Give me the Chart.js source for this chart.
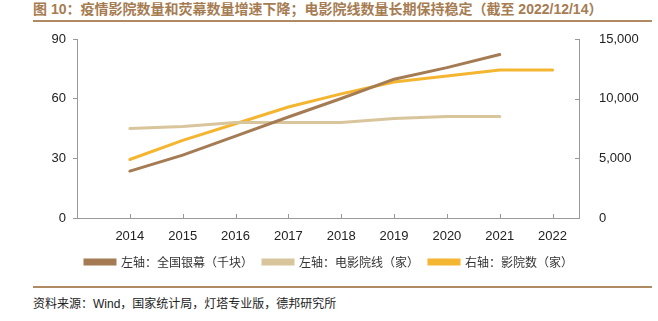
<!DOCTYPE html>
<html><head><meta charset="utf-8">
<script src="https://cdn.jsdelivr.net/npm/chart.js@4/dist/chart.umd.min.js"></script>
<style>
html,body{margin:0;padding:0;background:#fff;width:658px;height:321px;overflow:hidden;}
#title{position:absolute;left:33px;top:0px;font:bold 14px "Liberation Sans","Noto Sans CJK SC",sans-serif;color:#a67c52;white-space:nowrap;line-height:18px;}
#tline{position:absolute;left:33px;top:20px;width:619px;height:2px;background:#b08a62;}
#bline{position:absolute;left:33px;top:286px;width:619px;height:2px;background:#b08a62;}
#src{position:absolute;left:33px;top:294px;font:12px "Liberation Sans","Noto Sans CJK SC",sans-serif;color:#222;white-space:nowrap;}
#wrap{position:absolute;left:0;top:0;width:658px;height:286px;}
</style></head><body>
<div id="title">图 10：疫情影院数量和荧幕数量增速下降；电影院线数量长期保持稳定（截至 2022/12/14）</div>
<div id="tline"></div>
<div id="wrap"><canvas id="c" width="658" height="286"></canvas></div>
<div id="bline"></div>
<div id="src">资料来源：Wind，国家统计局，灯塔专业版，德邦研究所</div>
<script>
const years = [2014, 2015, 2016, 2017, 2018, 2019, 2020, 2021, 2022];
const screens = [23.6, 31.6, 41.2, 50.8, 60.1, 69.8, 75.6, 82.2, null];
const circuits = [45, 46, 48, 48, 48, 50, 51, 51, null];
const cinemas = [4900, 6500, 7900, 9300, 10400, 11400, 11900, 12400, 12400];
const leftTicks = [0, 30, 60, 90];
const rightTicks = [0, 5000, 10000, 15000];
const seriesNames = ['左轴：全国银幕（千块）', '左轴：电影院线（家）', '右轴：影院数（家）'];

const pts = arr => years.map((y, i) => ({x: y, y: arr[i]}));
const axisColor = '#999';
const tickFont = {family: '"Liberation Sans", Arial, sans-serif', size: 13};

const tickPlugin = {
  id: 'ticksIn',
  afterDraw(chart) {
    const ctx = chart.ctx, xs = chart.scales.x, yr = chart.scales.y2, ca = chart.chartArea;
    ctx.save();
    ctx.strokeStyle = axisColor; ctx.lineWidth = 1;
    years.forEach(y => {
      const px = Math.round(xs.getPixelForValue(y)) + 0.5;
      ctx.beginPath(); ctx.moveTo(px, ca.bottom); ctx.lineTo(px, ca.bottom - 4); ctx.stroke();
    });
    rightTicks.forEach(v => {
      const py = Math.round(yr.getPixelForValue(v)) + 0.5;
      ctx.beginPath(); ctx.moveTo(ca.right, py); ctx.lineTo(ca.right - 4, py); ctx.stroke();
    });
    ctx.restore();
  }
};

new Chart(document.getElementById('c'), {
  type: 'line',
  data: {
    datasets: [
      {label: seriesNames[0], data: pts(screens), borderColor: '#a47b53', backgroundColor: '#a47b53', yAxisID: 'y'},
      {label: seriesNames[1], data: pts(circuits), borderColor: '#d8c59c', backgroundColor: '#d8c59c', yAxisID: 'y'},
      {label: seriesNames[2], data: pts(cinemas), borderColor: '#f4b530', backgroundColor: '#f4b530', yAxisID: 'y2'}
    ].map(d => Object.assign(d, {borderWidth: 3, pointRadius: 0, tension: 0, borderCapStyle: 'round', spanGaps: false}))
  },
  options: {
    responsive: false, animation: false, devicePixelRatio: 1,
    layout: {padding: {top: 39, left: 0, right: 0, bottom: 8}},
    plugins: {
      tooltip: {enabled: false},
      legend: {
        position: 'bottom',
        labels: {boxWidth: 30, boxHeight: 4, padding: 10, color: '#333',
          font: {family: '"Noto Sans CJK SC", sans-serif', size: 12}}
      }
    },
    scales: {
      x: {
        type: 'linear', min: 2013, max: 2022.5,
        grid: {display: false},
        border: {display: true, color: axisColor},
        ticks: {autoSkip: false, color: '#222', font: tickFont, padding: 3, maxRotation: 0,
          callback: v => String(v)},
        afterBuildTicks: s => { s.ticks = years.map(v => ({value: v})); },
        afterFit: s => { s.height = 28; }
      },
      y: {
        position: 'left', min: 0, max: 90,
        grid: {display: true, drawOnChartArea: false, drawTicks: true, tickLength: 4, color: axisColor},
        border: {display: true, color: axisColor},
        ticks: {color: '#222', font: tickFont, padding: 7},
        afterBuildTicks: s => { s.ticks = leftTicks.map(v => ({value: v})); },
        afterFit: s => { s.width = 77; }
      },
      y2: {
        position: 'right', min: 0, max: 15000,
        grid: {display: false},
        border: {display: true, color: axisColor},
        ticks: {color: '#222', font: tickFont, padding: 12,
          callback: v => v.toLocaleString('en-US')},
        afterBuildTicks: s => { s.ticks = rightTicks.map(v => ({value: v})); },
        afterFit: s => { s.width = 79; }
      }
    }
  },
  plugins: [tickPlugin]
});
</script>
</body></html>
